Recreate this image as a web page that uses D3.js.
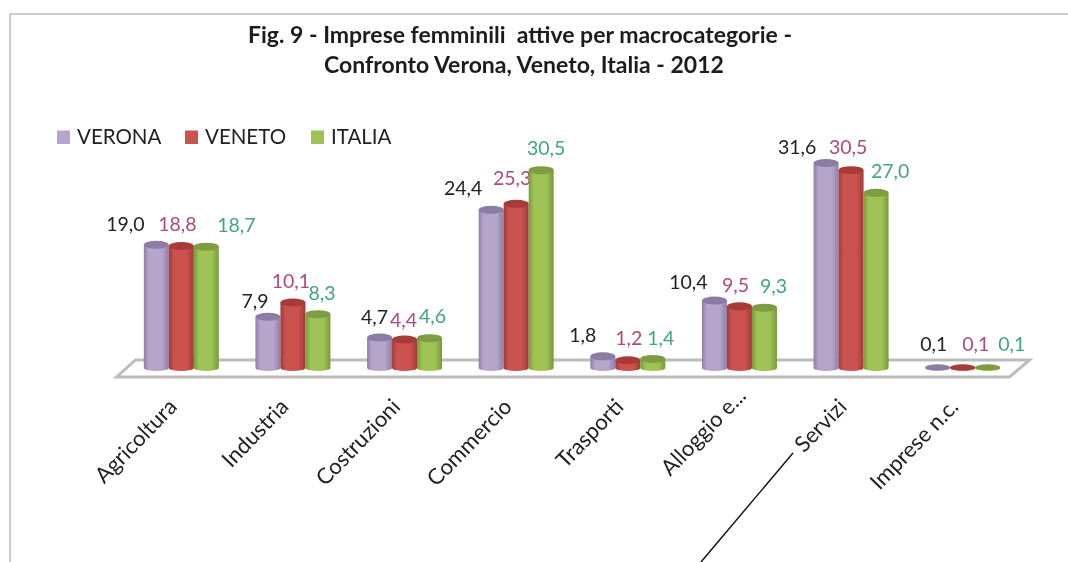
<!DOCTYPE html>
<html><head><meta charset="utf-8">
<script src="https://cdn.jsdelivr.net/npm/d3@7"></script>
<style>html,body{margin:0;background:#fff}svg{display:block}text{font-family:Lato,"Open Sans",sans-serif}</style>
</head><body><svg id="c" width="1068" height="562"></svg>
<script>
const categories = ["Agricoltura","Industria","Costruzioni","Commercio","Trasporti","Alloggio e...","Servizi","Imprese n.c."];
const seriesNames = ["VERONA","VENETO","ITALIA"];
const verona = [19.0,7.9,4.7,24.4,1.8,10.4,31.6,0.1];
const veneto = [18.8,10.1,4.4,25.3,1.2,9.5,30.5,0.1];
const italia = [18.7,8.3,4.6,30.5,1.4,9.3,27.0,0.1];
const titleLines = ["Fig. 9 - Imprese femminili  attive per macrocategorie -","Confronto Verona, Veneto, Italia - 2012"];

const seriesValues = [verona,veneto,italia];
const fills = ["#b5a5cb","#cb5250","#9fc254"];
const edges = ["#8e7fa6","#a03a38","#779a3c"];
const tops = ["#8b7ba3","#a83b39","#7f9c42"];
const labelColors = ["#222222","#ad4a80","#3fa680"];
// hand placement of the data labels, relative to the top of each bar (label overlap avoidance in the original)
const nudgeX = [[-31,-13,-5,-28,-20,-26,-29,-4],[-4,-2,-1,-4,1,-4,-3,13],[30,4,3,5,8,9,14,24]];
const nudgeY = [[-20.2,-15.5,-20.3,-21,-21,-18.5,-16,-23],[-21.2,-20.6,-19.3,-25,-22,-20.6,-23,-23],[-21.2,-20.5,-21.3,-22,-20,-21.6,-21.7,-23]];

const svg = d3.select("#c");
const defs = svg.append("defs");
const blur = defs.append("filter").attr("id","soft").attr("x","-5%").attr("y","-5%").attr("width","110%").attr("height","110%");
blur.append("feGaussianBlur").attr("stdDeviation",0.55);
fills.forEach((f,i)=>{
  const g = defs.append("linearGradient").attr("id","cyl"+i);
  g.append("stop").attr("offset","0%").attr("stop-color",edges[i]);
  g.append("stop").attr("offset","20%").attr("stop-color",f);
  g.append("stop").attr("offset","72%").attr("stop-color",f);
  g.append("stop").attr("offset","100%").attr("stop-color",edges[i]);
});
const root = svg.append("g").attr("filter","url(#soft)");

// frame
root.append("path").attr("d","M1068,14H10V562").attr("fill","none").attr("stroke","#bdbdbd").attr("stroke-width",1.5);

// title
titleLines.forEach((t,i)=>root.append("text").attr("x",520+i*4).attr("y",43+i*30)
  .attr("text-anchor","middle").attr("font-size",23).attr("font-weight",700).attr("fill","#1c1c1c")
  .style("white-space","pre").text(t));

const x = d3.scaleBand().domain(categories).range([125.5,1018.5]);
const xs = d3.scaleBand().domain(seriesNames).range([-37.5,37.5]);
const y = d3.scaleLinear().domain([0,31.6]).range([368,163]);

// floor
const bx0 = x.range()[0], bx1 = x.range()[1];
root.append("path").attr("d",`M${bx0-9},377L${bx0+10},360H${bx1+11}L${bx1-9},377Z`)
  .attr("fill","#fff").attr("stroke","#bcbcbc").attr("stroke-width",3);

// cylinders
const rx = 12.5, ry = 4;
seriesNames.forEach((s,si)=>{
  const g = root.append("g");
  categories.forEach((c,ci)=>{
    const v = seriesValues[si][ci];
    const cx = x(c)+x.bandwidth()/2+xs(s)+xs.bandwidth()/2;
    const top = y(v);
    g.append("path")
      .attr("d",`M${cx-rx},${top}V${y(0)}A${rx},${ry-1} 0 0 0 ${cx+rx},${y(0)}V${top}Z`)
      .attr("fill",`url(#cyl${si})`);
    g.append("ellipse").attr("cx",cx).attr("cy",top).attr("rx",rx).attr("ry",ry-(v<1?1:0)).attr("fill",tops[si]);
    root.append("text").datum(v).attr("class","lab")
      .attr("x",cx+nudgeX[si][ci]).attr("y",top+nudgeY[si][ci]+6.5)
      .attr("text-anchor","middle").attr("font-size",19.5).attr("fill",labelColors[si])
      .text(d3.format(".1f")(v).replace(".",","));
  });
});

// category axis
const ax = root.append("g").attr("transform","translate(0,394)")
  .call(d3.axisBottom(x).tickSize(0).tickPadding(0));
ax.select(".domain").remove();
ax.selectAll("text").attr("font-size",22).attr("fill","#222")
  .style("font-family","Lato").attr("text-anchor","end").attr("dy",0).attr("y",0)
  .attr("transform",d=>d==="Alloggio e..."?"translate(8,3) rotate(-46)":"translate(-3,14) rotate(-46)");

// legend
const legendX = d3.scaleOrdinal().domain(seriesNames).range([57,185,311]);
seriesNames.forEach((s,i)=>{
  root.append("rect").attr("x",legendX(s)).attr("y",130.5).attr("width",13).attr("height",13.5).attr("fill",fills[i]);
  root.append("text").attr("x",legendX(s)+20).attr("y",144).attr("font-size",20.5).attr("fill","#222").text(s);
});

// pointer line
root.append("line").attr("x1",793).attr("y1",453).attr("x2",701).attr("y2",562).attr("stroke","#111").attr("stroke-width",1.4);
</script></body></html>
